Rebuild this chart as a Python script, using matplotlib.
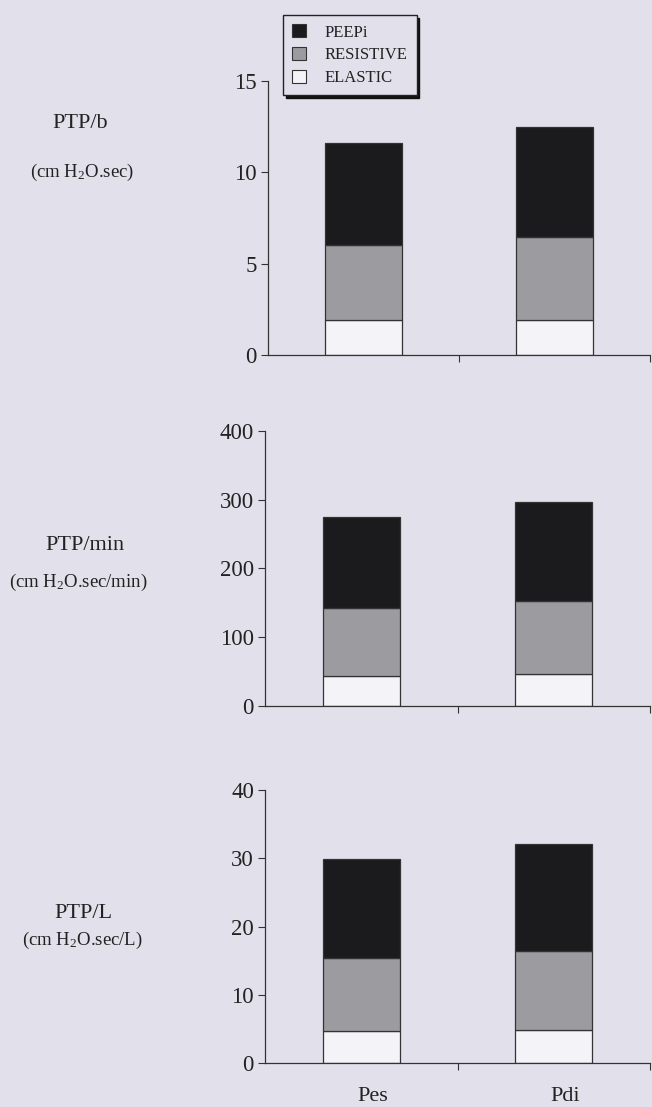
import numpy as np
import matplotlib
matplotlib.use('Agg')
import matplotlib.pyplot as plt
from matplotlib.patches import Patch

plt.rcParams['font.family'] = ['Liberation Serif', 'DejaVu Serif']
plt.rcParams['mathtext.fontset'] = 'custom'
plt.rcParams['mathtext.rm'] = 'Liberation Serif'
plt.rcParams['mathtext.it'] = 'Liberation Serif:italic'

BG = '#e2e1eb'

groups = ['Pes', 'Pdi']
components = ['ELASTIC', 'RESISTIVE', 'PEEPi']
legend_order = ['PEEPi', 'RESISTIVE', 'ELASTIC']

# segment heights (stacked bottom to top)
ptp_b_elastic = [1.9, 1.9]
ptp_b_resistive = [4.1, 4.55]
ptp_b_peepi = [5.6, 6.05]

ptp_min_elastic = [43, 46]
ptp_min_resistive = [99, 107]
ptp_min_peepi = [132, 144]

ptp_l_elastic = [4.7, 4.9]
ptp_l_resistive = [10.7, 11.5]
ptp_l_peepi = [14.5, 15.7]

panel_titles = ['PTP/b', 'PTP/min', 'PTP/L']
panel_units = ['(cm H$_2$O.sec)', '(cm H$_2$O.sec/min)', '(cm H$_2$O.sec/L)']
panel_ylims = [15, 400, 40]
panel_yticks = [[0, 5, 10, 15], [0, 100, 200, 300, 400], [0, 10, 20, 30, 40]]

colors = {'ELASTIC': '#f4f4f8', 'RESISTIVE': '#9b9ba0', 'PEEPi': '#1b1a1d'}

data = [
    [ptp_b_elastic, ptp_b_resistive, ptp_b_peepi],
    [ptp_min_elastic, ptp_min_resistive, ptp_min_peepi],
    [ptp_l_elastic, ptp_l_resistive, ptp_l_peepi],
]

W, H = 652, 1107
fig = plt.figure(figsize=(W / 100, H / 100), dpi=100, facecolor=BG)

# axes boxes in pixels: left, y of 0, y of max
boxes = [(268, 355, 81), (265, 706, 430.7), (265, 1063.3, 790)]
label_pos = [((80, 123), (82, 172)), ((85, 545), (78, 582)), ((83, 913), (82, 940))]

x = np.array([0.5, 1.5])
for i, (left, y0, y1) in enumerate(boxes):
    ax = fig.add_axes([left / W, 1 - y0 / H, (650 - left) / W, (y0 - y1) / H])
    ax.set_facecolor(BG)
    bottom = np.zeros(2)
    for comp, vals in zip(components, data[i]):
        ax.bar(x, vals, width=0.4, bottom=bottom, color=colors[comp],
               edgecolor='#333333', linewidth=0.9, zorder=2)
        bottom += np.array(vals)
    ax.set_xlim(0, 2)
    ax.set_ylim(0, panel_ylims[i])
    ax.set_yticks(panel_yticks[i])
    ax.set_xticks([1, 2])
    ax.set_xticklabels([])
    ax.tick_params(axis='y', labelsize=16.5, length=5, width=0.8, pad=3,
                   colors='#333333', labelcolor='#222222')
    ax.tick_params(axis='x', length=5, width=0.8, colors='#333333')
    for s in ['top', 'right']:
        ax.spines[s].set_visible(False)
    for s in ['left', 'bottom']:
        ax.spines[s].set_color('#333333')
        ax.spines[s].set_linewidth(0.9)
    (tx, ty), (ux, uy) = label_pos[i]
    fig.text(tx / W, 1 - ty / H, panel_titles[i], ha='center', va='center',
             fontsize=16, color='#222222')
    fig.text(ux / W, 1 - uy / H, panel_units[i], ha='center', va='center',
             fontsize=13.5, color='#222222')
    if i == 2:
        for xi, g in zip(x, groups):
            ax.text(xi + 0.06, -0.085, g, transform=ax.get_xaxis_transform(),
                    ha='center', va='top', fontsize=16, color='#222222')

handles = [Patch(facecolor=colors[c], edgecolor='#333333', linewidth=0.8, label=c)
           for c in legend_order]
leg = fig.legend(handles=handles, loc='upper left',
                 bbox_to_anchor=(283 / W, 1 - 15 / H), bbox_transform=fig.transFigure,
                 borderaxespad=0, fancybox=False, shadow={'color': '#111111', 'alpha': 1},
                 edgecolor='#222222', facecolor=BG, framealpha=1, fontsize=12,
                 handlelength=0.85, handleheight=0.85, labelspacing=0.38,
                 borderpad=0.55, handletextpad=1.1)
leg.get_frame().set_linewidth(1.0)
for t in leg.get_texts():
    t.set_color('#222222')

fig.savefig('out.png', dpi=100, facecolor=BG)
